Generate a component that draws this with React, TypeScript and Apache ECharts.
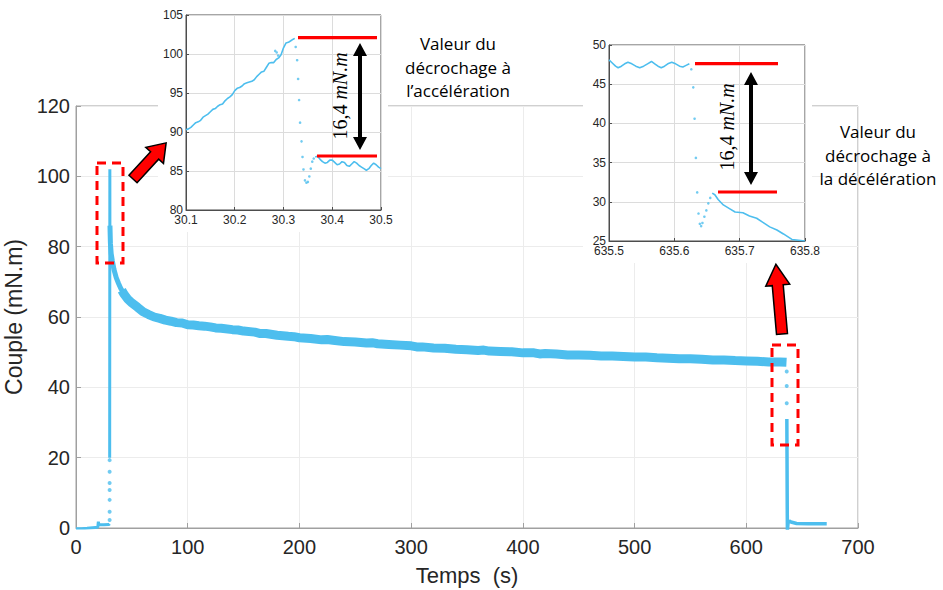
import React, { useEffect, useRef } from "react";
import * as echarts from "echarts";

// ---------- main chart data (t in s, torque in mN.m) ----------
const startData: [number, number][] = [
  [0, -0.2], [5, -0.2], [10, -0.1], [15, 0.1], [19.5, 0.2], [20, 1.8], [20.5, 0.9],
  [25, 0.9], [29.5, 1.0], [30, 1.2],
];
const spikeData: [number, number][] = [
  [30.15, 20], [30.3, 102], [30.35, 86],
];
const riseDots: [number, number][] = [
  [30.1, 2.3], [30.1, 4.6], [30.1, 8], [30.1, 10.8], [30.1, 12.8], [30.1, 16], [30.1, 19.3],
];
const earlyDecay: [number, number][] = [
  [30.4, 86], [30.8, 81], [31.5, 78], [32.5, 76], [34, 73.5], [36, 71.2], [38, 69.6], [40, 68.2],
  [43, 66.6], [46, 65.3],
];
const bandData: [number, number][] = [
  [41, 67.6], [43, 66.5], [46, 65.2], [50, 64], [55, 62.8], [60, 61.5], [65, 60.7],
  [70, 60], [75, 59.6], [80, 59.1], [85, 58.8], [90, 58.4], [95, 58.3], [100, 57.8], [105, 57.7],
  [110, 57.5], [115, 57.4], [120, 57.2], [125, 56.9], [130, 56.8], [140, 56.4], [145, 56.3],
  [150, 56.0], [160, 55.7], [165, 55.3], [170, 55.3], [180, 54.8], [190, 54.5], [195, 54.4],
  [200, 54.1], [210, 53.9], [220, 53.5], [225, 53.6], [230, 53.4], [240, 53.0], [250, 52.9],
  [260, 52.6], [265, 52.7], [270, 52.4], [280, 52.2], [290, 52.0], [300, 51.8], [305, 51.5],
  [310, 51.5], [320, 51.2], [330, 51.1], [340, 50.8], [350, 50.7], [360, 50.5], [365, 50.6],
  [370, 50.3], [380, 50.2], [390, 50.1], [400, 49.8], [410, 49.8], [415, 49.5], [420, 49.6],
  [430, 49.5], [440, 49.2], [450, 49.2], [460, 49.1], [470, 48.9], [480, 48.9], [490, 48.8],
  [500, 48.6], [510, 48.6], [520, 48.4], [530, 48.3], [540, 48.1], [550, 48.1], [560, 48.0],
  [570, 47.8], [580, 47.8], [590, 47.6], [600, 47.5], [610, 47.4], [620, 47.2], [630, 47.2],
  [636, 47.1],
];
const fallDots: [number, number][] = [
  [636.2, 44.5], [636.2, 40.4], [636.2, 35.5],
];
const endData: [number, number][] = [
  [636.3, 31], [636.4, 24], [636.5, 18], [636.6, 10], [636.7, 4], [636.8, -0.6], [637.4, 1.5],
  [638.5, 2.0], [640, 1.7], [645, 1.3], [655, 1.2], [665, 1.2], [672, 1.2],
];

// ---------- inset 1 (acceleration stall) ----------
const in1Rise: [number, number][] = [
  [30.1, 90.3], [30.105, 90.4], [30.11, 90.6], [30.115, 90.9], [30.12, 91.2], [30.125, 91.3],
  [30.13, 91.5], [30.135, 91.9], [30.14, 92.1], [30.145, 92.3], [30.15, 92.6], [30.155, 92.9],
  [30.16, 93.0], [30.165, 93.3], [30.17, 93.5], [30.175, 93.6], [30.18, 94.0], [30.185, 94.3],
  [30.19, 94.5], [30.195, 94.8], [30.2, 95.3], [30.205, 95.6], [30.21, 95.7], [30.215, 95.9],
  [30.22, 96.2], [30.225, 96.3], [30.23, 96.4], [30.235, 96.5], [30.24, 96.7], [30.245, 97.1],
  [30.25, 97.4], [30.255, 97.7], [30.26, 97.8], [30.265, 98.3], [30.27, 98.8], [30.275, 98.9],
  [30.28, 98.9], [30.285, 99.3], [30.29, 99.5], [30.295, 99.9], [30.3, 100.8], [30.305, 101.4],
  [30.31, 101.5], [30.315, 101.7], [30.32, 101.9], [30.323, 102.0],
];
const in1Dots: [number, number][] = [
  [30.283, 100.4], [30.286, 100.2], [30.289, 99.8],
  [30.325, 100.9], [30.328, 99.2], [30.33, 96.8], [30.332, 94.1], [30.334, 91.2],
  [30.337, 88.8], [30.339, 86.8], [30.341, 85.2], [30.344, 83.8], [30.347, 83.5],
  [30.35, 83.6], [30.353, 84.3], [30.356, 85.3], [30.359, 86.2], [30.362, 86.6],
];
const in1Wave: [number, number][] = [
  [30.365, 86.8], [30.37, 86.9], [30.375, 86.5], [30.38, 86.2], [30.385, 86.0], [30.39, 86.1],
  [30.395, 86.4], [30.4, 86.4], [30.405, 86.1], [30.41, 85.8], [30.415, 85.9], [30.42, 86.2],
  [30.425, 86.1], [30.43, 85.7], [30.435, 85.6], [30.44, 85.9], [30.445, 86.2], [30.45, 86.0],
  [30.455, 85.7], [30.46, 85.5], [30.465, 85.3], [30.47, 85.1], [30.475, 85.3], [30.48, 85.7],
  [30.485, 86.0], [30.49, 85.8], [30.495, 85.5], [30.5, 85.3],
];

// ---------- inset 2 (deceleration stall) ----------
const in2Wave: [number, number][] = [
  [635.5, 48.1], [635.505, 47.7], [635.51, 47.3], [635.514, 47.1], [635.519, 47.3],
  [635.524, 47.6], [635.529, 47.8], [635.535, 47.6], [635.541, 47.3], [635.547, 47.1],
  [635.553, 47.3], [635.559, 47.6], [635.565, 47.9], [635.57, 47.6], [635.575, 47.3],
  [635.58, 47.1], [635.585, 47.3], [635.59, 47.6], [635.596, 47.8], [635.602, 47.6],
  [635.608, 47.3], [635.613, 47.2], [635.618, 47.4], [635.623, 47.6],
];
const in2Dots: [number, number][] = [
  [635.626, 46.9], [635.629, 44.6], [635.631, 40.6], [635.633, 35.6], [635.635, 31.2],
  [635.637, 28.5], [635.639, 27.2], [635.641, 26.9], [635.643, 27.3], [635.646, 28.1],
  [635.649, 28.9], [635.652, 29.8], [635.655, 30.5],
];
const in2Fall: [number, number][] = [
  [635.658, 31.1], [635.662, 30.9], [635.667, 30.3], [635.675, 29.6], [635.685, 29.1],
  [635.693, 28.7], [635.705, 28.6], [635.715, 28.2], [635.726, 27.9], [635.735, 27.4],
  [635.746, 26.8], [635.757, 26.4], [635.767, 25.9], [635.78, 25.2], [635.79, 25.1],
  [635.8, 25.0],
];

const mainXTicks = { min: 0, max: 700, interval: 100 };
const mainYTicks = { min: 0, max: 120, interval: 20 };
const in1X = { min: 30.1, max: 30.5, interval: 0.1 };
const in1Y = { min: 80, max: 105, interval: 5 };
const in2X = { min: 635.5, max: 635.8, interval: 0.1 };
const in2Y = { min: 25, max: 50, interval: 5 };

const BLUE = "#4dbeee";
const TXT = "#262626";

function blockArrow(x: number, y: number, angleDeg: number, len: number, headLen: number) {
  const sw = 5.5;
  const hw = 12;
  const b = len - headLen;
  return {
    type: "polygon",
    x,
    y,
    rotation: (angleDeg * Math.PI) / 180,
    shape: {
      points: [[0, -sw], [b, -sw], [b, -hw], [len, 0], [b, hw], [b, sw], [0, sw]],
    },
    style: { fill: "#ff0000", stroke: "#000", lineWidth: 1.5 },
    z: 30,
  };
}

function doubleArrow(cx: number, y1: number, y2: number) {
  const hw = 7, hl = 13, sw = 2;
  return {
    type: "polygon",
    shape: {
      points: [
        [cx, y1], [cx + hw, y1 + hl], [cx + sw, y1 + hl], [cx + sw, y2 - hl], [cx + hw, y2 - hl],
        [cx, y2], [cx - hw, y2 - hl], [cx - sw, y2 - hl], [cx - sw, y1 + hl], [cx - hw, y1 + hl],
      ],
    },
    style: { fill: "#000" },
    z: 30,
  };
}

function redLine(x1: number, x2: number, y: number) {
  return {
    type: "line",
    shape: { x1, y1: y, x2, y2: y },
    style: { stroke: "#ff0000", lineWidth: 3.2 },
    z: 30,
  };
}

function mathLabel(x: number, y: number) {
  return {
    type: "text",
    x,
    y,
    rotation: Math.PI / 2,
    style: {
      text: "{a|16,4 }{b|mN.m}",
      align: "center",
      verticalAlign: "middle",
      fill: "#000",
      rich: {
        a: { fontFamily: "Liberation Serif", fontSize: 20, fill: "#000" },
        b: { fontFamily: "Liberation Serif", fontSize: 20, fontStyle: "italic", fill: "#000" },
      },
    },
    z: 30,
  };
}

function noteText(x: number, y: number, text: string) {
  return {
    type: "text",
    x,
    y,
    style: {
      text,
      align: "center",
      verticalAlign: "middle",
      fontFamily: "Open Sans",
      fontSize: 17,
      lineHeight: 23.5,
      fill: "#000",
    },
    z: 30,
  };
}

function insetAxes(gridIndex: number, r: { min: number; max: number; interval: number }, isX: boolean, dec: number) {
  return {
    type: "value",
    gridIndex,
    min: r.min,
    max: r.max,
    interval: r.interval,
    z: 12,
    axisLine: { show: true, onZero: false, lineStyle: { color: "#4d4d4d", width: 1 } },
    axisTick: { show: true, inside: true, length: 3, lineStyle: { color: "#4d4d4d" } },
    axisLabel: {
      fontSize: 12,
      color: TXT,
      margin: isX ? 4 : 3,
      fontFamily: "Liberation Sans",
      formatter: (v: number) => v.toFixed(dec),
    },
    splitLine: { show: true, lineStyle: { color: "#dcdcdc", width: 1 } },
  };
}

export default function App() {
  const ref = useRef<HTMLDivElement>(null);
  useEffect(() => {
    if (!ref.current) return;
    const chart = echarts.init(ref.current, undefined, { renderer: "svg" });
    const option: any = {
      animation: false,
      textStyle: { fontFamily: "Liberation Sans" },
      grid: [
        { left: 76, top: 106, right: 85, bottom: 62, show: true, borderColor: "#a0a0a0", borderWidth: 1, z: 0, containLabel: false, outerBoundsMode: "none" },
        { left: 186, top: 15, width: 195, height: 195, show: true, backgroundColor: "#fff", borderColor: "#4d4d4d", borderWidth: 1, z: 11, containLabel: false, outerBoundsMode: "none" },
        { left: 609, top: 45, width: 196, height: 196, show: true, backgroundColor: "#fff", borderColor: "#4d4d4d", borderWidth: 1, z: 11, containLabel: false, outerBoundsMode: "none" },
      ],
      xAxis: [
        {
          type: "value",
          gridIndex: 0,
          ...mainXTicks,
          name: "Temps  (s)",
          nameLocation: "middle",
          nameGap: 36,
          nameTextStyle: { fontSize: 22, color: TXT, fontFamily: "Liberation Sans" },
          axisLine: { show: true, onZero: false, lineStyle: { color: "#a0a0a0" } },
          axisTick: { show: true, inside: true, length: 5, lineStyle: { color: "#a0a0a0" } },
          axisLabel: { fontSize: 20, color: TXT, margin: 9 },
          splitLine: { show: true, lineStyle: { color: "#ececec" } },
        },
        insetAxes(1, in1X, true, 1),
        insetAxes(2, in2X, true, 1),
      ],
      yAxis: [
        {
          type: "value",
          gridIndex: 0,
          ...mainYTicks,
          name: "Couple (mN.m)",
          nameLocation: "middle",
          nameGap: 41,
          nameTextStyle: { fontSize: 23, color: TXT, fontFamily: "Liberation Sans" },
          axisLine: { show: true, onZero: false, lineStyle: { color: "#a0a0a0" } },
          axisTick: { show: true, inside: true, length: 5, lineStyle: { color: "#a0a0a0" } },
          axisLabel: { fontSize: 20, color: TXT, margin: 6 },
          splitLine: { show: true, lineStyle: { color: "#ececec" } },
        },
        insetAxes(1, in1Y, false, 0),
        insetAxes(2, in2Y, false, 0),
      ],
      series: [
        { type: "line", xAxisIndex: 0, yAxisIndex: 0, data: startData, showSymbol: false, lineStyle: { color: BLUE, width: 3 }, z: 2, silent: true },
        { type: "line", xAxisIndex: 0, yAxisIndex: 0, data: spikeData, showSymbol: false, lineStyle: { color: BLUE, width: 3 }, z: 2, silent: true },
        { type: "line", xAxisIndex: 0, yAxisIndex: 0, data: earlyDecay, showSymbol: false, lineStyle: { color: BLUE, width: 5 }, z: 2, silent: true },
        { type: "line", xAxisIndex: 0, yAxisIndex: 0, data: bandData, showSymbol: false, lineStyle: { color: BLUE, width: 9 }, z: 2, silent: true },
        { type: "line", xAxisIndex: 0, yAxisIndex: 0, data: endData, showSymbol: false, lineStyle: { color: BLUE, width: 3.5 }, z: 2, silent: true },
        { type: "scatter", xAxisIndex: 0, yAxisIndex: 0, data: [...riseDots, ...fallDots], symbolSize: 4, itemStyle: { color: BLUE }, z: 2, silent: true },
        { type: "line", xAxisIndex: 1, yAxisIndex: 1, data: in1Rise, showSymbol: false, lineStyle: { color: BLUE, width: 1.6 }, z: 13, silent: true },
        { type: "line", xAxisIndex: 1, yAxisIndex: 1, data: in1Wave, showSymbol: false, lineStyle: { color: BLUE, width: 1.6 }, z: 13, silent: true },
        { type: "scatter", xAxisIndex: 1, yAxisIndex: 1, data: in1Dots, symbolSize: 2.6, itemStyle: { color: BLUE }, z: 13, silent: true },
        { type: "line", xAxisIndex: 2, yAxisIndex: 2, data: in2Wave, showSymbol: false, lineStyle: { color: BLUE, width: 1.6 }, z: 13, silent: true },
        { type: "line", xAxisIndex: 2, yAxisIndex: 2, data: in2Fall, showSymbol: false, lineStyle: { color: BLUE, width: 1.6 }, z: 13, silent: true },
        { type: "scatter", xAxisIndex: 2, yAxisIndex: 2, data: in2Dots, symbolSize: 2.6, itemStyle: { color: BLUE }, z: 13, silent: true },
      ],
      graphic: [
        { type: "rect", shape: { x: 158, y: 0, width: 230, height: 232 }, style: { fill: "#fff" }, z: 10 },
        { type: "rect", shape: { x: 583, y: 35, width: 229, height: 228 }, style: { fill: "#fff" }, z: 10 },
        { type: "rect", shape: { x: 97, y: 163, width: 26, height: 100 }, style: { fill: "none", stroke: "#ff0000", lineWidth: 3, lineDash: [9, 6] }, z: 30 },
        { type: "rect", shape: { x: 772, y: 345, width: 26, height: 100 }, style: { fill: "none", stroke: "#ff0000", lineWidth: 3, lineDash: [9, 6] }, z: 30 },
        blockArrow(133, 179, 47.5, 49, 17),
        blockArrow(782, 334, 95, 70, 21),
        redLine(298, 377, 37.7),
        redLine(317, 377, 156),
        doubleArrow(360, 43, 150),
        mathLabel(340, 96),
        redLine(695, 778, 63.7),
        redLine(718, 777, 192),
        doubleArrow(751, 72, 185),
        mathLabel(727, 127),
        noteText(458, 67, "Valeur du\ndécrochage à\nl’accélération"),
        noteText(878, 155, "Valeur du\ndécrochage à\nla décélération"),
      ],
    };
    chart.setOption(option);
    return () => chart.dispose();
  }, []);
  return (
    <div
      ref={ref}
      style={{ position: "fixed", left: 0, top: 0, width: 943, height: 590, background: "#fff" }}
    />
  );
}
